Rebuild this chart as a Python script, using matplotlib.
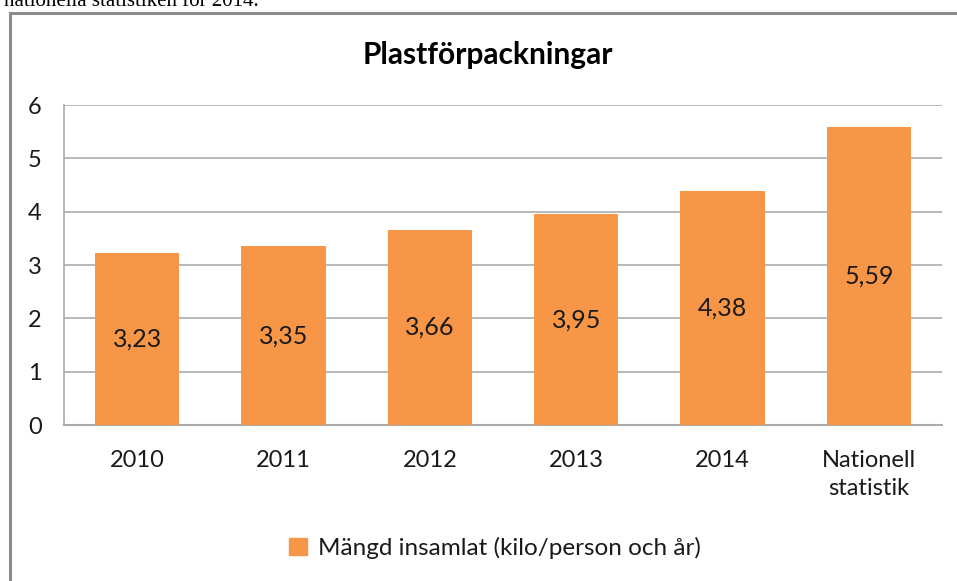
import matplotlib
matplotlib.use("Agg")
import matplotlib.pyplot as plt
from matplotlib.patches import Rectangle
from matplotlib.lines import Line2D

categories = ["2010", "2011", "2012", "2013", "2014", "Nationell\nstatistik"]
values = [3.23, 3.35, 3.66, 3.95, 4.38, 5.59]
value_labels = ["3,23", "3,35", "3,66", "3,95", "4,38", "5,59"]
yticks = [0, 1, 2, 3, 4, 5, 6]
title = "Plastförpackningar"
series_name = "Mängd insamlat (kilo/person och år)"
header_text = "nationella statistiken för 2014."

W, H = 957, 581
plt.rcParams['font.family'] = ['Lato', 'DejaVu Sans']
fig = plt.figure(figsize=(W / 100, H / 100), dpi=100)
fig.patch.set_facecolor("white")

# header text (cut off at the top)
fig.text(4 / W, 1 - 6 / H, header_text, family="Liberation Serif", fontsize=15,
         ha="left", va="baseline", color="black")

# chart frame
frame_col = "#8C8C8C"
fig.add_artist(Line2D([9.5 / W, 9.5 / W], [0, 1 - 12.5 / H], color=frame_col, lw=2.2,
                      transform=fig.transFigure))
fig.add_artist(Line2D([9.5 / W, 1], [1 - 12.5 / H, 1 - 12.5 / H], color=frame_col, lw=2.2,
                      transform=fig.transFigure))

left, right, top, bottom = 64, 942, 105, 425
ax = fig.add_axes([left / W, 1 - bottom / H, (right - left) / W, (bottom - top) / H])
x = list(range(len(categories)))
bar_color = "#F79646"
ax.bar(x, values, width=0.575, color=bar_color, zorder=3, label=series_name)
for xi, v, lab in zip(x, values, value_labels):
    ax.text(xi, v / 2, lab, ha="center", va="center", fontsize=18, color="#1a1a1a", zorder=4)

ax.set_xlim(-0.5, len(categories) - 0.5)
ax.set_ylim(0, 6)
ax.set_yticks(yticks)
ax.set_yticklabels([str(t) for t in yticks], fontsize=17, color="#1a1a1a")
ax.set_xticks(x)
ax.set_xticklabels(categories, fontsize=17, color="#1a1a1a", linespacing=1.4)
ax.tick_params(axis="both", length=0)
ax.tick_params(axis="y", pad=16)
ax.tick_params(axis="x", pad=18)
ax.yaxis.grid(True, color="#ABABAB", lw=1.2, zorder=0)
ax.set_axisbelow(True)
for s in ["top", "right"]:
    ax.spines[s].set_visible(False)
ax.spines["left"].set_color("#ABABAB")
ax.spines["bottom"].set_color("#ABABAB")
ax.spines["left"].set_linewidth(1.2)
ax.spines["bottom"].set_linewidth(1.5)

fig.text(488 / W, 1 - 55 / H, title, ha="center", va="center", fontsize=21.5,
         fontweight="bold", color="black")

leg = fig.legend(handles=[Rectangle((0, 0), 1, 1, color=bar_color)], labels=[series_name],
                 loc="center", bbox_to_anchor=(495 / W, 1 - 548 / H), frameon=False,
                 fontsize=17.5, handlelength=0.75, handleheight=0.75, handletextpad=0.45)
for t in leg.get_texts():
    t.set_color("#1a1a1a")

fig.savefig("out.png", dpi=100, facecolor="white")
